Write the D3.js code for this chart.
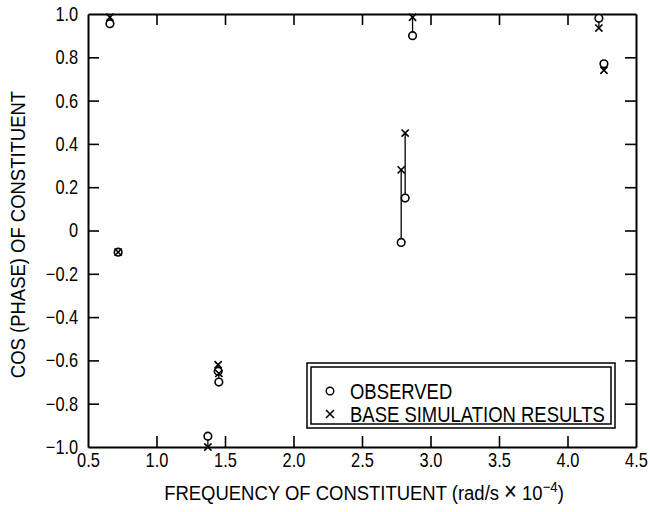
<!DOCTYPE html>
<html>
<head>
<meta charset="utf-8">
<script src="https://cdn.jsdelivr.net/npm/d3@7"></script>
<style>
  html, body { margin: 0; padding: 0; background: #fff; }
  svg { display: block; font-family: "Liberation Sans", Arial, sans-serif; }
</style>
</head>
<body>
<svg id="chart" width="650" height="512"></svg>
<script>
// Tidal constituent frequencies (rad/s x 1e-4) and cos(phase) values
const frequency = [0.66, 0.72, 1.375, 1.45, 1.455, 2.786, 2.815, 2.869, 4.229, 4.266];
const observed  = [0.955, -0.10, -0.95, -0.65, -0.70, -0.055, 0.15, 0.90, 0.98, 0.77];
const simulated = [0.985, -0.10, -1.00, -0.62, -0.66, 0.28, 0.45, 0.985, 0.935, 0.74];

const xTicks = [0.5, 1.0, 1.5, 2.0, 2.5, 3.0, 3.5, 4.0, 4.5];
const yTicks = [-1.0, -0.8, -0.6, -0.4, -0.2, 0, 0.2, 0.4, 0.6, 0.8, 1.0];
const legendLabels = ["OBSERVED", "BASE SIMULATION RESULTS"];

// Narrow lettering: regular sans squeezed horizontally
const NARROW = 0.82;
const TITLE_NARROW = 0.88;
const margin = { left: 88, right: 14, top: 14, bottom: 65 };
const W = 650, H = 512;
const svg = d3.select("#chart");

const x = d3.scaleLinear().domain([0.5, 4.5]).range([margin.left, W - margin.right]);
const y = d3.scaleLinear().domain([-1, 1]).range([H - margin.bottom, margin.top]);

const fmtY = v => v === 0 ? "0" : d3.format(".1f")(v).replace("-", "\u2212");
const fmtX = d3.format(".1f");
const tickLen = 11;

// Axes: ticks point inward on all four sides
const gB = svg.append("g").attr("transform", `translate(0,${y(-1)})`)
  .call(d3.axisBottom(x).tickValues(xTicks).tickFormat(fmtX).tickSizeInner(-tickLen).tickSizeOuter(0).tickPadding(6));
const gT = svg.append("g").attr("transform", `translate(0,${y(1)})`)
  .call(d3.axisTop(x).tickValues(xTicks).tickFormat("").tickSizeInner(-tickLen).tickSizeOuter(0));
const gL = svg.append("g").attr("transform", `translate(${x(0.5)},0)`)
  .call(d3.axisLeft(y).tickValues(yTicks).tickFormat(fmtY).tickSizeInner(-tickLen).tickSizeOuter(0).tickPadding(12));
const gR = svg.append("g").attr("transform", `translate(${x(4.5)},0)`)
  .call(d3.axisRight(y).tickValues(yTicks).tickFormat("").tickSizeInner(-tickLen).tickSizeOuter(0));

[gB, gT, gL, gR].forEach(g => {
  g.select(".domain").attr("stroke", "#000").attr("stroke-width", 2);
  g.selectAll(".tick line").attr("stroke", "#000").attr("stroke-width", 1.6);
  g.selectAll(".tick text").attr("fill", "#000").style("font-size", "20px")
    .attr("transform", `scale(${NARROW},1)`);
});
// end ticks coincide with the frame
gB.selectAll(".tick").filter(d => d === 0.5 || d === 4.5).select("line").remove();
gT.selectAll(".tick").filter(d => d === 0.5 || d === 4.5).select("line").remove();
gL.selectAll(".tick").filter(d => d === -1 || d === 1).select("line").remove();
gR.selectAll(".tick").filter(d => d === -1 || d === 1).select("line").remove();

// Axis titles
svg.append("text")
  .attr("transform", `translate(${(x(0.5) + x(4.5)) / 2 + 2},${H - 12}) scale(${TITLE_NARROW},1)`)
  .attr("text-anchor", "middle").style("font-size", "21px")
  .html('FREQUENCY OF CONSTITUENT (rad/s <tspan font-size="25px">\u00D7</tspan> 10<tspan dy="-8" font-size="15px">\u22124</tspan><tspan dy="8">)</tspan>');

svg.append("text")
  .attr("transform", `translate(25,${(y(1) + y(-1)) / 2 + 4}) rotate(-90) scale(${TITLE_NARROW},1)`)
  .attr("text-anchor", "middle").style("font-size", "21px")
  .text("COS (PHASE) OF CONSTITUENT");

// Connectors between observed and simulated values of each constituent
const pts = frequency.map((f, i) => ({ f, o: observed[i], s: simulated[i] }));
svg.append("g").selectAll("line").data(pts).join("line")
  .attr("x1", d => x(d.f)).attr("x2", d => x(d.f))
  .attr("y1", d => y(d.o)).attr("y2", d => y(d.s))
  .attr("stroke", "#000").attr("stroke-width", 1.3);

// Observed: open circles
svg.append("g").selectAll("circle").data(pts).join("circle")
  .attr("cx", d => x(d.f)).attr("cy", d => y(d.o)).attr("r", 3.8)
  .attr("fill", "#fff").attr("stroke", "#000").attr("stroke-width", 1.6);

// Simulated: crosses
const xMark = (sel, cx, cy, r) => sel.append("path")
  .attr("d", `M${cx - r},${cy - r}L${cx + r},${cy + r}M${cx - r},${cy + r}L${cx + r},${cy - r}`)
  .attr("stroke", "#000").attr("stroke-width", 1.6).attr("fill", "none");
const gX = svg.append("g");
pts.forEach(d => xMark(gX, x(d.f), y(d.s), 3.6));

// Legend with double border
const lg = svg.append("g");
const lx = 307, ly = 363, lw = 308, lh = 65;
lg.append("rect").attr("x", lx).attr("y", ly).attr("width", lw).attr("height", lh)
  .attr("fill", "#fff").attr("stroke", "#000").attr("stroke-width", 1.5);
lg.append("rect").attr("x", lx + 4).attr("y", ly + 4).attr("width", lw - 8).attr("height", lh - 8)
  .attr("fill", "none").attr("stroke", "#000").attr("stroke-width", 1.5);
lg.append("circle").attr("cx", lx + 23).attr("cy", ly + 28).attr("r", 3.8)
  .attr("fill", "#fff").attr("stroke", "#000").attr("stroke-width", 1.4);
xMark(lg, lx + 23, ly + 51, 4);
lg.selectAll("text.lab").data(legendLabels).join("text").attr("class", "lab")
  .attr("transform", (d, i) => `translate(${lx + 43},${ly + 36 + i * 23}) scale(0.84,1)`)
  .style("font-size", "22px").text(d => d);
</script>
</body>
</html>
